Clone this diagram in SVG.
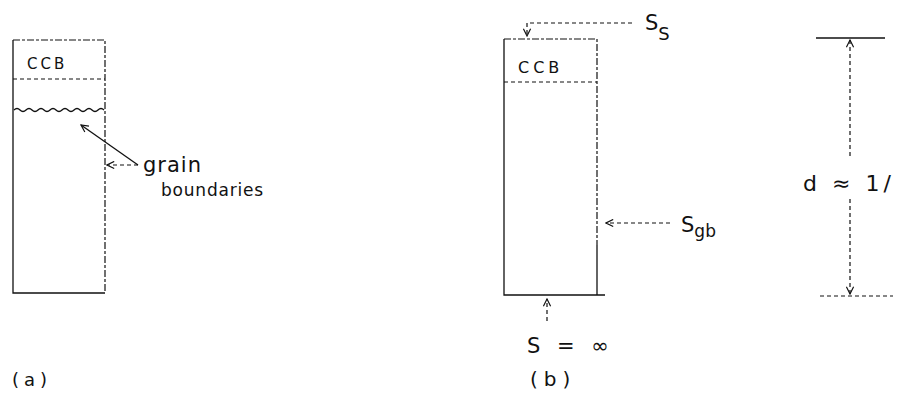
<svg xmlns="http://www.w3.org/2000/svg" width="913" height="399" viewBox="0 0 913 399">
<defs>
<style>
.ln{fill:none;stroke:#111;stroke-width:1.3}
.ds{fill:none;stroke:#111;stroke-width:1.2;stroke-dasharray:7 2 3 2}
.dt{fill:none;stroke:#111;stroke-width:1.2;stroke-dasharray:4 3}
.t{font-family:"DejaVu Sans","Liberation Sans",sans-serif;fill:#111;font-weight:normal}
</style>
<marker id="ah" viewBox="0 0 10 10" refX="9" refY="5" markerWidth="9" markerHeight="9" orient="auto-start-reverse" markerUnits="userSpaceOnUse">
<path d="M1,1 L9,5 L1,9" fill="none" stroke="#111" stroke-width="1.3"/>
</marker>
</defs>
<rect width="913" height="399" fill="#fff"/>

<g id="box-a">
<path class="ln" d="M13,40 L13,293 L105,293"/>
<path class="ds" d="M13,40 L105,40 L105,293"/>
<path class="dt" d="M13,79 L105,79"/>
<path class="ln" d="M14,110 q3,-3 6,0 t6,0 t6,0 t6,0 t6,0 t6,0 t6,0 t6,0 t6,0 t6,0 t6,0 t6,0 t6,0 t6,0 t6,0"/>
<text class="t" x="27" y="69" font-size="15" letter-spacing="3">CCB</text>
</g>

<g id="label-grain">
<text class="t" x="143" y="172" font-size="21" letter-spacing="1">grain</text>
<text class="t" x="161" y="196" font-size="17" letter-spacing="0.8">boundaries</text>
</g>

<g id="label-a">
<text class="t" x="12" y="386" font-size="18" letter-spacing="5">(a)</text>
</g>

<g id="box-b">
<path class="ln" d="M504,39 L504,295 L605,295"/>
<path class="ds" d="M504,39 L597,39 L597,245"/>
<path class="ln" d="M597,245 L597,295"/>
<path class="dt" d="M504,82 L597,82"/>
<text class="t" x="518" y="73" font-size="16" letter-spacing="4">CCB</text>
</g>

<g id="label-ss">
<text class="t" x="645" y="30" font-size="21">S<tspan font-size="18" dy="10">S</tspan></text>
</g>

<g id="label-sgb">
<text class="t" x="681" y="232" font-size="21">S<tspan font-size="17" dy="5">gb</tspan></text>
</g>

<g id="label-sinf">
<text class="t" x="527" y="353" font-size="21" letter-spacing="5">S = ∞</text>
</g>

<g id="label-b">
<text class="t" x="530" y="386" font-size="20" letter-spacing="6">(b)</text>
</g>

<g id="dimension">
<path class="ln" d="M816,38 L885,38"/>
<path class="dt" d="M820,296 L893,296"/>
<text class="t" x="803" y="191" font-size="22" letter-spacing="4">d ≈ 1/</text>
</g>

<g id="connectors">
<path class="ln" d="M138,165 L81,125" marker-end="url(#ah)"/>
<path class="dt" d="M138,165 L107,165" marker-end="url(#ah)"/>
<path class="dt" d="M632,23 L527,23 L527,36" marker-end="url(#ah)"/>
<path class="dt" d="M670,223 L606,223" marker-end="url(#ah)"/>
<path class="dt" d="M547,321 L547,299" marker-end="url(#ah)"/>
<path class="dt" d="M850,156 L850,40" marker-end="url(#ah)"/>
<path class="dt" d="M850,199 L850,294" marker-end="url(#ah)"/>
</g>
</svg>
